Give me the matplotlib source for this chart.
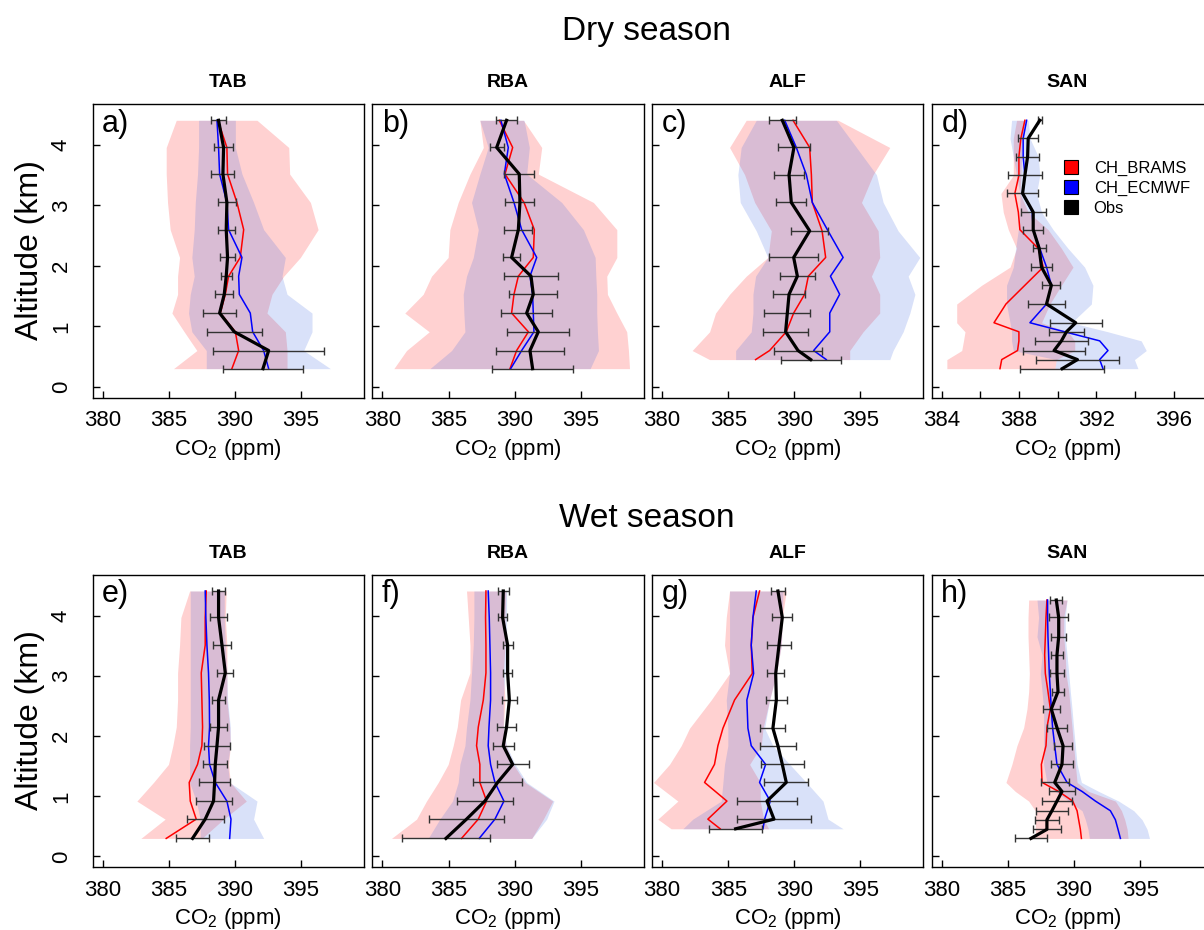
import numpy as np
import matplotlib
matplotlib.use("Agg")
import matplotlib.pyplot as plt
from matplotlib.lines import Line2D

plt.rcParams['font.family'] = ['Liberation Sans', 'DejaVu Sans']
plt.rcParams['mathtext.default'] = 'regular'

# ---- data (altitude in km, CO2 in ppm), bottom -> top ----
# dry season
a_alt = [0.30, 0.60, 0.91, 1.22, 1.53, 1.83, 2.14, 2.60, 3.05, 3.52, 3.96, 4.41]
a_obs = [392.12, 392.55, 389.95, 388.84, 389.19, 389.34, 389.44, 389.34, 389.39, 389.09, 389.14, 388.76]
a_sd = [3.02, 4.22, 2.10, 1.25, 0.67, 0.42, 0.59, 0.63, 0.68, 0.87, 0.72, 0.57]
a_brams = [389.77, 390.28, 390.03, 388.89, 389.27, 389.52, 390.40, 390.66, 390.15, 389.44, 389.39, 388.71]
a_ecmwf = [392.55, 392.17, 391.34, 391.16, 390.33, 390.28, 390.53, 389.52, 389.39, 388.84, 388.76, 388.64]
a_brams_lo = [385.35, 387.12, 386.16, 385.23, 385.66, 385.66, 385.81, 385.10, 384.90, 384.80, 384.80, 385.56]
a_brams_hi = [393.94, 393.94, 393.81, 392.42, 392.80, 393.69, 394.95, 396.29, 395.71, 394.14, 394.07, 391.67]
a_ecmwf_lo = [387.83, 387.83, 386.74, 386.49, 386.62, 386.92, 386.74, 386.92, 387.00, 387.17, 387.25, 387.25]
a_ecmwf_hi = [397.22, 395.20, 395.83, 395.83, 393.94, 393.56, 393.81, 392.17, 391.41, 390.53, 390.03, 390.03]

b_alt = [0.30, 0.60, 0.91, 1.22, 1.53, 1.83, 2.14, 2.60, 3.05, 3.52, 3.96, 4.41]
b_obs = [391.36, 391.16, 391.79, 390.91, 391.41, 391.24, 389.77, 390.28, 390.40, 390.35, 388.64, 389.39]
b_sd = [3.06, 2.55, 2.35, 1.95, 1.82, 2.06, 0.64, 1.05, 1.10, 1.12, 0.53, 0.82]
b_brams = [389.65, 390.15, 391.04, 389.77, 389.95, 390.28, 391.41, 391.49, 390.71, 389.27, 389.85, 388.84]
b_ecmwf = [389.70, 390.53, 391.46, 391.41, 391.36, 391.16, 391.67, 390.53, 389.95, 389.22, 389.52, 388.96]
b_brams_lo = [380.86, 381.82, 383.54, 381.69, 383.08, 383.71, 384.97, 385.10, 385.73, 386.62, 387.63, 387.37]
b_brams_hi = [398.69, 398.61, 398.48, 397.73, 397.02, 396.97, 397.73, 397.73, 395.96, 391.79, 392.05, 390.66]
b_ecmwf_lo = [383.59, 385.23, 386.24, 386.16, 386.11, 386.36, 386.87, 387.25, 386.74, 387.37, 388.00, 387.37]
b_ecmwf_hi = [395.71, 396.34, 396.26, 396.21, 396.21, 396.14, 396.09, 395.20, 393.56, 390.91, 391.11, 390.71]

c_alt = [0.45, 0.60, 0.91, 1.22, 1.53, 1.83, 2.14, 2.58, 3.05, 3.51, 3.96, 4.41]
c_obs = [391.24, 390.28, 389.34, 389.47, 389.60, 390.23, 389.95, 391.16, 389.77, 389.60, 389.97, 389.09]
c_sd = [2.27, 1.83, 1.70, 1.74, 1.24, 1.35, 1.83, 1.41, 1.12, 1.11, 1.21, 1.01]
c_brams = [387.07, 388.13, 389.39, 389.95, 390.78, 391.06, 392.37, 392.10, 391.36, 391.29, 391.16, 389.90]
c_ecmwf = [392.42, 391.46, 392.68, 392.68, 393.43, 392.73, 393.69, 392.55, 391.36, 390.91, 390.15, 389.27]
c_brams_lo = [383.59, 382.27, 383.59, 384.04, 385.10, 386.36, 388.00, 388.26, 387.00, 386.24, 385.10, 386.36]
c_brams_hi = [394.19, 394.19, 395.20, 396.46, 396.46, 395.83, 396.46, 396.34, 395.08, 395.96, 397.22, 393.31]
c_ecmwf_lo = [385.56, 385.56, 386.74, 386.87, 386.87, 387.07, 388.00, 387.12, 385.91, 385.73, 385.98, 387.12]
c_ecmwf_hi = [397.22, 397.47, 398.23, 398.74, 399.12, 398.61, 399.49, 397.85, 396.72, 396.21, 394.70, 393.18]

d_alt = [0.30, 0.45, 0.60, 0.76, 0.91, 1.06, 1.37, 1.68, 1.98, 2.29, 2.60, 2.89, 3.20, 3.50, 3.81, 4.11, 4.41]
d_obs = [390.23, 391.02, 389.81, 390.19, 390.45, 390.93, 389.42, 389.67, 389.16, 389.04, 388.73, 388.73, 388.18, 388.30, 388.44, 388.47, 389.07]
d_sd = [2.16, 2.13, 1.59, 1.37, 0.91, 1.34, 0.95, 0.47, 0.54, 0.34, 0.51, 0.64, 0.82, 0.90, 0.58, 0.52, 0.09]
d_brams = [387.01, 387.10, 387.92, 387.99, 387.99, 386.70, 387.32, 388.30, 389.25, 388.99, 388.04, 387.96, 387.78, 387.99, 387.99, 388.09, 388.30]
d_ecmwf = [392.34, 392.17, 392.60, 392.17, 390.36, 388.56, 389.42, 389.67, 389.42, 389.07, 388.73, 388.68, 388.18, 388.30, 388.21, 388.21, 388.39]
d_brams_lo = [384.26, 384.26, 385.03, 385.12, 385.20, 384.77, 384.77, 386.06, 387.53, 387.87, 387.44, 387.18, 387.06, 387.70, 387.70, 387.70, 387.87]
d_brams_hi = [389.85, 389.93, 390.88, 390.88, 390.53, 389.16, 389.59, 390.19, 390.79, 390.19, 389.50, 388.47, 388.04, 388.09, 388.13, 388.16, 388.30]
d_ecmwf_lo = [389.85, 389.93, 387.70, 387.61, 387.61, 387.53, 387.35, 387.35, 387.70, 387.82, 387.96, 388.04, 388.04, 387.87, 387.70, 387.53, 387.61]
d_ecmwf_hi = [394.15, 393.97, 394.58, 394.32, 392.60, 390.71, 391.74, 391.82, 391.39, 390.53, 389.76, 389.16, 388.90, 389.07, 388.99, 388.56, 388.47]

# wet season
e_alt = [0.30, 0.62, 0.92, 1.23, 1.53, 1.84, 2.15, 2.60, 3.05, 3.51, 3.97, 4.41]
e_obs = [386.79, 387.75, 388.38, 388.46, 388.51, 388.64, 388.76, 388.76, 389.27, 389.02, 388.76, 388.76]
e_sd = [1.26, 1.39, 1.36, 1.17, 0.92, 0.98, 0.62, 0.49, 0.61, 0.69, 0.66, 0.48]
e_brams = [384.80, 387.07, 386.62, 386.54, 387.17, 387.50, 387.55, 387.50, 387.45, 387.75, 387.75, 387.83]
e_ecmwf = [389.60, 389.70, 389.39, 388.51, 388.08, 388.00, 388.08, 388.06, 388.00, 387.88, 387.80, 387.75]
e_brams_lo = [382.88, 384.72, 382.58, 383.84, 384.97, 385.30, 385.56, 385.66, 385.66, 385.81, 385.91, 386.57]
e_brams_hi = [387.50, 389.14, 390.86, 389.65, 389.52, 389.65, 389.60, 389.39, 389.39, 389.39, 389.27, 389.34]
e_ecmwf_lo = [387.37, 387.37, 387.07, 386.57, 386.57, 386.57, 386.62, 386.62, 386.62, 386.62, 386.62, 386.62]
e_ecmwf_hi = [392.17, 391.41, 391.67, 389.60, 389.44, 389.65, 389.65, 389.44, 389.39, 389.27, 389.19, 389.19]

f_alt = [0.30, 0.62, 0.92, 1.23, 1.53, 1.84, 2.15, 2.60, 3.05, 3.51, 3.97, 4.41]
f_obs = [384.80, 386.36, 387.75, 388.71, 389.85, 389.14, 389.39, 389.60, 389.47, 389.47, 389.09, 389.14]
f_sd = [3.35, 2.84, 2.10, 1.87, 1.22, 0.78, 0.71, 0.57, 0.34, 0.38, 0.32, 0.40]
f_brams = [385.98, 387.25, 387.88, 387.37, 387.37, 387.12, 387.25, 387.63, 387.83, 387.83, 387.80, 387.83]
f_ecmwf = [387.32, 388.51, 389.19, 388.51, 388.18, 388.00, 388.06, 388.18, 388.18, 388.13, 388.08, 388.00]
f_brams_lo = [380.68, 382.58, 383.33, 384.22, 384.97, 385.35, 385.66, 385.91, 386.62, 386.62, 386.49, 386.36]
f_brams_hi = [391.29, 392.17, 392.88, 390.78, 389.90, 389.34, 389.14, 389.27, 389.14, 389.27, 389.27, 389.34]
f_ecmwf_lo = [383.46, 384.34, 385.30, 385.73, 385.86, 386.24, 386.36, 386.62, 386.74, 386.87, 386.92, 386.92]
f_ecmwf_hi = [391.29, 392.42, 392.98, 390.91, 390.03, 389.39, 389.14, 389.14, 389.27, 389.39, 389.39, 389.39]

g_alt = [0.46, 0.62, 0.92, 1.23, 1.53, 1.84, 2.13, 2.60, 3.04, 3.51, 3.97, 4.41]
g_obs = [385.56, 388.46, 387.93, 389.39, 389.09, 388.76, 388.38, 388.64, 388.59, 388.84, 389.09, 388.76]
g_sd = [2.02, 2.82, 2.25, 1.68, 1.64, 1.39, 0.95, 0.82, 0.64, 0.88, 0.76, 0.54]
g_brams = [384.39, 383.46, 384.90, 383.21, 383.96, 384.22, 384.60, 385.48, 386.82, 386.74, 386.87, 387.37]
g_ecmwf = [387.63, 387.75, 388.18, 387.37, 387.83, 386.74, 386.49, 386.41, 386.92, 386.74, 386.87, 387.12]
g_brams_lo = [380.68, 379.67, 381.19, 379.35, 380.56, 381.44, 382.07, 383.71, 385.10, 384.72, 384.85, 385.10]
g_brams_hi = [388.06, 387.68, 387.42, 387.42, 386.62, 387.50, 387.63, 388.13, 388.64, 389.02, 389.09, 389.39]
g_ecmwf_lo = [381.57, 382.32, 384.47, 384.60, 384.72, 384.97, 384.97, 384.85, 385.10, 385.10, 385.10, 385.10]
g_ecmwf_hi = [393.69, 392.55, 392.17, 390.91, 389.65, 388.38, 387.75, 388.13, 388.64, 389.02, 389.09, 389.14]

h_alt = [0.30, 0.45, 0.61, 0.76, 0.92, 1.08, 1.23, 1.53, 1.84, 2.14, 2.45, 2.74, 3.04, 3.35, 3.65, 3.97, 4.26]
h_obs = [386.74, 387.95, 387.95, 388.33, 388.71, 389.09, 388.54, 389.09, 389.17, 388.71, 388.28, 388.79, 388.71, 388.71, 388.84, 388.84, 388.66]
h_sd = [1.22, 1.04, 0.93, 1.22, 1.10, 0.96, 1.07, 0.85, 0.69, 0.76, 0.63, 0.43, 0.52, 0.45, 0.56, 0.73, 0.44]
h_brams = [390.56, 390.48, 390.35, 390.23, 389.90, 388.84, 387.58, 387.53, 387.88, 387.95, 388.21, 388.03, 387.83, 387.78, 387.83, 387.88, 387.95]
h_ecmwf = [393.51, 393.33, 393.13, 392.75, 391.62, 390.61, 389.47, 388.71, 388.54, 388.38, 388.28, 388.21, 388.13, 388.08, 388.03, 388.00, 388.00]
h_brams_lo = [387.07, 387.07, 387.07, 387.07, 386.57, 385.56, 384.85, 385.30, 385.68, 386.19, 386.44, 386.57, 386.62, 386.57, 386.52, 386.52, 386.57]
h_brams_hi = [394.09, 394.02, 393.84, 393.59, 393.13, 391.11, 390.23, 390.10, 389.97, 389.85, 389.72, 389.60, 389.39, 389.34, 389.22, 389.22, 389.47]
h_ecmwf_lo = [391.16, 391.06, 390.86, 390.61, 389.60, 388.59, 387.95, 387.70, 387.70, 387.70, 387.70, 387.58, 387.45, 387.58, 387.20, 387.32, 387.20]
h_ecmwf_hi = [395.71, 395.53, 395.15, 394.52, 393.38, 391.87, 390.56, 390.23, 390.10, 389.97, 389.85, 389.72, 389.60, 389.47, 389.34, 389.34, 389.47]

sites = ["TAB", "RBA", "ALF", "SAN"]
letters = ["a)", "b)", "c)", "d)", "e)", "f)", "g)", "h)"]
ticks_std = [380, 385, 390, 395]
ticks_san = [384, 386, 388, 390, 392, 394, 396]
ticklabels_san = ["384", "", "388", "", "392", "", "396"]

panels = [
    (a_alt, a_obs, a_sd, a_brams, a_ecmwf, a_brams_lo, a_brams_hi, a_ecmwf_lo, a_ecmwf_hi),
    (b_alt, b_obs, b_sd, b_brams, b_ecmwf, b_brams_lo, b_brams_hi, b_ecmwf_lo, b_ecmwf_hi),
    (c_alt, c_obs, c_sd, c_brams, c_ecmwf, c_brams_lo, c_brams_hi, c_ecmwf_lo, c_ecmwf_hi),
    (d_alt, d_obs, d_sd, d_brams, d_ecmwf, d_brams_lo, d_brams_hi, d_ecmwf_lo, d_ecmwf_hi),
    (e_alt, e_obs, e_sd, e_brams, e_ecmwf, e_brams_lo, e_brams_hi, e_ecmwf_lo, e_ecmwf_hi),
    (f_alt, f_obs, f_sd, f_brams, f_ecmwf, f_brams_lo, f_brams_hi, f_ecmwf_lo, f_ecmwf_hi),
    (g_alt, g_obs, g_sd, g_brams, g_ecmwf, g_brams_lo, g_brams_hi, g_ecmwf_lo, g_ecmwf_hi),
    (h_alt, h_obs, h_sd, h_brams, h_ecmwf, h_brams_lo, h_brams_hi, h_ecmwf_lo, h_ecmwf_hi),
]


def draw_panel(ax, alt, obs, sd, brams, ecmwf, b_lo, b_hi, e_lo, e_hi):
    ax.fill_betweenx(alt, b_lo, b_hi, color="red", alpha=0.18, lw=0)
    ax.fill_betweenx(alt, e_lo, e_hi, color="royalblue", alpha=0.2, lw=0)
    ax.plot(brams, alt, color="red", lw=1.1)
    ax.plot(ecmwf, alt, color="blue", lw=1.1)
    ax.errorbar(obs, alt, xerr=sd, fmt="none", ecolor="#333333", elinewidth=1, capsize=3, capthick=1)
    ax.plot(obs, alt, color="black", lw=2.3)


fig = plt.figure(figsize=(12.04, 9.30), dpi=100)

lefts = [0.0770, 0.3093, 0.5416, 0.7739]
width = 0.2253
rows = [(0.5724, 0.3158), (0.0674, 0.3146)]

for i in range(8):
    r, c = divmod(i, 4)
    ax = fig.add_axes([lefts[c], rows[r][0], width, rows[r][1]])
    draw_panel(ax, *panels[i])
    ax.set_ylim(-0.18, 4.68)
    ax.set_yticks([0, 1, 2, 3, 4])
    if i == 3:
        ax.set_xlim(383.48, 397.52)
        ax.set_xticks(ticks_san)
        ax.set_xticklabels(ticklabels_san)
    else:
        ax.set_xlim(379.24, 399.76)
        ax.set_xticks(ticks_std)
    if c == 0:
        ax.set_yticklabels(["0", "1", "2", "3", "4"], rotation=90, va="center")
    else:
        ax.set_yticklabels([])
    if c == 3:
        ax.spines["right"].set_visible(False)
    ax.tick_params(direction="in", length=5, width=1, labelsize=16)
    ax.tick_params(axis="x", pad=9)
    ax.tick_params(axis="y", pad=15)
    for s in ax.spines.values():
        s.set_linewidth(1)
    ax.set_xlabel("CO$_2$ (ppm)", fontsize=16, labelpad=4)
    ax.set_title(sites[c], fontsize=14, fontweight="bold", pad=12)
    ax.text(0.035, 0.906, letters[i], transform=ax.transAxes, fontsize=22, va="baseline")
    if i == 3:
        handles = [Line2D([], [], marker="s", ls="none", markersize=10,
                          markerfacecolor=col, markeredgecolor="black", markeredgewidth=0.8)
                   for col in ["red", "blue", "black"]]
        ax.legend(handles, ["CH_BRAMS", "CH_ECMWF", "Obs"], loc="upper left",
                  bbox_to_anchor=(0.482, 0.807), frameon=False, fontsize=12,
                  borderpad=0, borderaxespad=0, handlelength=1.0,
                  handletextpad=0.87, labelspacing=0.3)

fig.text(0.537, 0.957, "Dry season", ha="center", va="baseline", fontsize=24)
fig.text(0.537, 0.433, "Wet season", ha="center", va="baseline", fontsize=24)
fig.text(0.025, 0.731, "Altitude (km)", rotation=90, ha="center", va="center", fontsize=23)
fig.text(0.025, 0.226, "Altitude (km)", rotation=90, ha="center", va="center", fontsize=23)

fig.savefig("out.png", dpi=100)
